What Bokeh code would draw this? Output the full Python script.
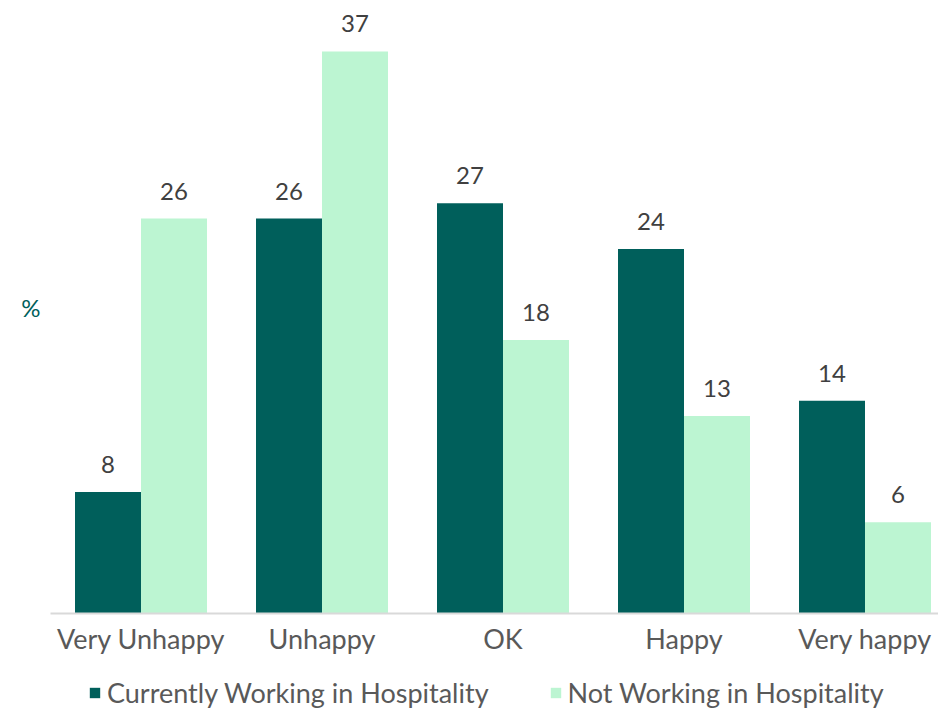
import numpy as np
from bokeh.plotting import figure
from bokeh.layouts import column
from bokeh.models import ColumnDataSource, Range1d, FixedTicker, Legend, LegendItem
from bokeh.core.properties import value
from bokeh.embed import file_html
from bokeh.resources import INLINE

categories = ["Very Unhappy", "Unhappy", "OK", "Happy", "Very happy"]
working = [8, 26, 27, 24, 14]
not_working = [26, 37, 18, 13, 6]
series_names = ["Currently Working in Hospitality", "Not Working in Hospitality"]

DARK = "#005F5B"
LIGHT = "#BCF5D2"
TXT = "#595959"
FONT = "Lato"

pos = np.arange(len(categories)) + 0.5
bw = 0.3646
src = ColumnDataSource(dict(
    x1=pos - bw / 2, x2=pos + bw / 2,
    w=working, nw=not_working,
    wl=[str(v) for v in working], nwl=[str(v) for v in not_working],
))

p = figure(width=938, height=656, frame_width=888, frame_height=613,
           output_backend="svg", toolbar_location=None,
           x_range=Range1d(0, 888 / 181), y_range=Range1d(0, 613 / 15.19),
           min_border_left=50, min_border_right=0, min_border_top=0, min_border_bottom=0)
p.outline_line_color = None
p.xgrid.visible = False
p.ygrid.visible = False
p.background_fill_color = "white"
p.border_fill_color = "white"

r1 = p.vbar(x="x1", top="w", width=bw, source=src, fill_color=DARK, line_color=None)
r2 = p.vbar(x="x2", top="nw", width=bw, source=src, fill_color=LIGHT, line_color=None)

for xc, yc, lc in (("x1", "w", "wl"), ("x2", "nw", "nwl")):
    p.text(x=xc, y=yc, text=lc, source=src, text_align="center", text_baseline="bottom",
           y_offset=-19, text_font=value(FONT), text_font_size="24px", text_color="#404040")

xa = p.xaxis[0]
xa.ticker = FixedTicker(ticks=list(pos))
xa.major_label_overrides = {float(x): c for x, c in zip(pos, categories)}
xa.major_tick_line_color = None
xa.minor_tick_line_color = None
xa.major_tick_in = 0
xa.major_tick_out = 0
xa.axis_line_color = "#D9D9D9"
xa.axis_line_width = 2
xa.major_label_text_font = FONT
xa.major_label_text_font_size = "27px"
xa.major_label_text_color = TXT
xa.major_label_standoff = 8

ya = p.yaxis[0]
ya.ticker = FixedTicker(ticks=[])
ya.axis_label = "%"
ya.axis_label_orientation = "horizontal"
ya.axis_label_text_font = FONT
ya.axis_label_text_font_size = "24px"
ya.axis_label_text_font_style = "normal"
ya.axis_label_text_color = DARK
ya.axis_line_color = None
ya.major_tick_line_color = None
ya.minor_tick_line_color = None
ya.major_label_standoff = 0
ya.axis_label_standoff = 10

# legend strip below the chart (its own renderers are hidden, only the legend shows)
lg = figure(width=938, height=52, output_backend="svg", toolbar_location=None,
            x_range=Range1d(0, 1), y_range=Range1d(0, 1),
            min_border_left=0, min_border_right=0, min_border_top=0, min_border_bottom=0,
            x_axis_location=None, y_axis_location=None)
lg.outline_line_color = None
lg.xgrid.visible = False
lg.ygrid.visible = False
g1 = lg.vbar(x="x1", top="w", width=bw, source=src, fill_color=DARK, line_color=None, visible=False)
g2 = lg.vbar(x="x2", top="nw", width=bw, source=src, fill_color=LIGHT, line_color=None, visible=False)

legend = Legend(items=[LegendItem(label=series_names[0], renderers=[g1]),
                       LegendItem(label=series_names[1], renderers=[g2])],
                orientation="horizontal", location=(38, 0),
                label_text_font=FONT, label_text_font_size="27px", label_text_color=TXT,
                glyph_width=13, glyph_height=13, label_standoff=6, spacing=60,
                padding=0, margin=0, border_line_color=None, background_fill_alpha=0,
                inactive_fill_alpha=0)
lg.add_layout(legend, "center")

open("out.html", "w").write(file_html(column(p, lg, spacing=0), INLINE))
